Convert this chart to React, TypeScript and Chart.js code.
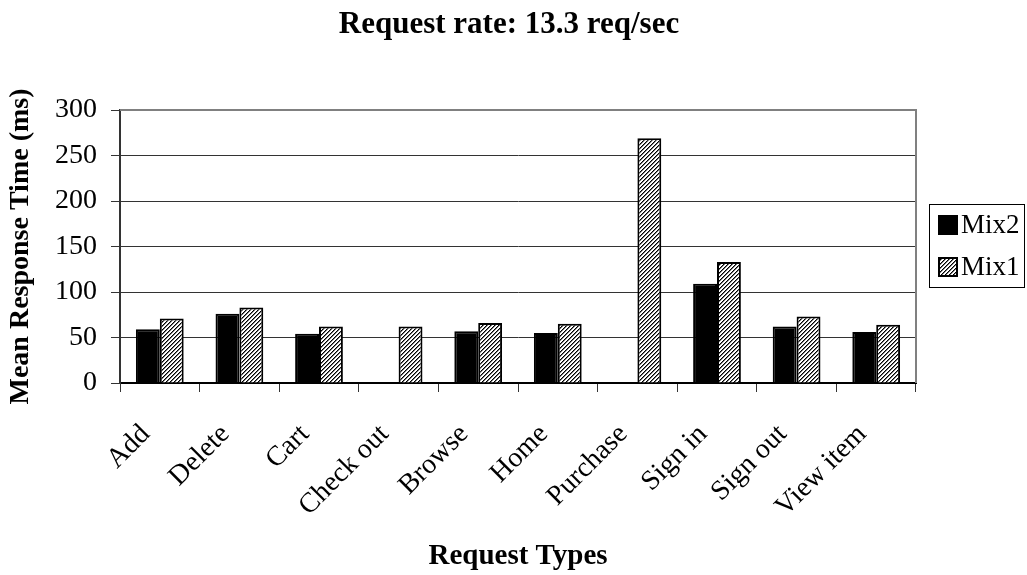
import React, { useEffect, useRef } from 'react';
import { Chart, registerables } from 'chart.js';

Chart.register(...registerables);

const categories = ['Add', 'Delete', 'Cart', 'Check out', 'Browse', 'Home', 'Purchase', 'Sign in', 'Sign out', 'View item'];
const mix2Values: (number | null)[] = [59, 76, 54, null, 57, 55, null, 109, 62, 56];
const mix1Values: (number | null)[] = [71, 83, 62, 62, 66, 65, 269, 133, 73, 64];
const seriesLabels = ['Mix2', 'Mix1'];
const yMin = 0;
const yMax = 300;
const yStep = 50;
const titleText = 'Request rate: 13.3 req/sec';
const yTitle = 'Mean Response Time (ms)';
const xTitle = 'Request Types';

const FONT = "'Liberation Serif', 'Times New Roman', serif";

function makeHatch(ctx: CanvasRenderingContext2D) {
  const pc = document.createElement('canvas');
  pc.width = 4;
  pc.height = 4;
  const g = pc.getContext('2d')!;
  g.fillStyle = '#ffffff';
  g.fillRect(0, 0, 4, 4);
  g.fillStyle = '#000000';
  for (let i = 0; i < 4; i++) {
    g.fillRect(3 - i, i, 1, 1);
  }
  g.fillStyle = '#777777';
  for (let i = 0; i < 4; i++) {
    g.fillRect((4 - i) % 4, i, 1, 1);
  }
  return ctx.createPattern(pc, 'repeat')!;
}

export default function App() {
  const ref = useRef<HTMLCanvasElement>(null);

  useEffect(() => {
    const canvas = ref.current!;
    const ctx = canvas.getContext('2d')!;
    const hatch = makeHatch(ctx);

    const titlePlugin = {
      id: 'customTitle',
      afterDraw(chart: any) {
        const c = chart.ctx;
        c.save();
        c.font = `bold 31px ${FONT}`;
        c.fillStyle = '#000';
        c.textAlign = 'center';
        c.textBaseline = 'alphabetic';
        c.fillText(titleText, 509, 33);
        c.restore();
      },
    };

    const framePlugin = {
      id: 'frame',
      beforeDatasetsDraw(chart: any) {
        const { left, right, top, bottom } = chart.chartArea;
        const c = chart.ctx;
        c.save();
        c.strokeStyle = '#808080';
        c.lineWidth = 2;
        c.beginPath();
        c.moveTo(left, top);
        c.lineTo(right, top);
        c.lineTo(right, bottom);
        c.stroke();
        c.restore();
      },
    };

    const legendPlugin = {
      id: 'boxLegend',
      afterDraw(chart: any) {
        const c = chart.ctx;
        c.save();
        c.strokeStyle = '#000';
        c.lineWidth = 1;
        c.strokeRect(929.5, 204.5, 95, 83);
        const fills = [chart.data.datasets[0].backgroundColor, chart.data.datasets[1].backgroundColor];
        const ys = [225, 267];
        c.font = `27px ${FONT}`;
        c.textBaseline = 'middle';
        c.textAlign = 'left';
        for (let i = 0; i < 2; i++) {
          const y = ys[i];
          c.fillStyle = fills[i];
          c.fillRect(939, y - 9, 18, 18);
          c.strokeStyle = '#000';
          c.lineWidth = 2;
          c.strokeRect(939, y - 9, 18, 18);
          c.fillStyle = '#000';
          c.fillText(chart.data.datasets[i].label, 961, y + 1);
        }
        c.restore();
      },
    };

    const chart = new Chart(ctx, {
      type: 'bar',
      data: {
        labels: categories,
        datasets: [
          {
            label: seriesLabels[0],
            data: mix2Values,
            backgroundColor: '#000000',
            borderColor: '#000000',
            borderWidth: 2,
            categoryPercentage: 0.6,
            barPercentage: 1.0,
          },
          {
            label: seriesLabels[1],
            data: mix1Values,
            backgroundColor: hatch as any,
            borderColor: '#000000',
            borderWidth: 2,
            categoryPercentage: 0.6,
            barPercentage: 1.0,
          },
        ],
      },
      options: {
        animation: false,
        responsive: true,
        maintainAspectRatio: false,
        layout: { padding: { top: 110, right: 111, left: 0, bottom: 0 } },
        plugins: {
          legend: { display: false },
          title: { display: false },
          tooltip: { enabled: false },
        },
        scales: {
          x: {
            afterFit: (scale: any) => {
              scale.height = 192;
            },
            grid: {
              display: true,
              drawOnChartArea: false,
              drawTicks: true,
              tickLength: 9,
              color: '#333',
              lineWidth: 1,
            },
            border: { display: true, color: '#000', width: 2 },
            ticks: {
              autoSkip: false,
              maxRotation: 45,
              minRotation: 45,
              padding: 26,
              labelOffset: -14,
              color: '#000',
              font: { family: FONT, size: 28 },
            },
            title: {
              display: true,
              text: xTitle,
              color: '#000',
              font: { family: FONT, size: 29, weight: 'bold' },
              padding: { top: 0, bottom: 1 },
            },
          },
          y: {
            min: yMin,
            max: yMax,
            afterFit: (scale: any) => {
              scale.width = 120;
            },
            ticks: {
              stepSize: yStep,
              padding: 14,
              color: '#000',
              font: { family: FONT, size: 28 },
            },
            grid: {
              color: '#333',
              lineWidth: 1,
              tickLength: 9,
            },
            border: { display: true, color: '#333', width: 2 },
            title: {
              display: true,
              text: yTitle,
              color: '#000',
              font: { family: FONT, size: 28, weight: 'bold' },
              padding: { top: 4, bottom: 0 },
            },
          },
        },
      },
      plugins: [titlePlugin, framePlugin, legendPlugin],
    });

    return () => chart.destroy();
  }, []);

  return (
    <div style={{ position: 'absolute', left: 0, top: 0, width: 1027, height: 575, background: '#fff' }}>
      <canvas ref={ref} />
    </div>
  );
}
